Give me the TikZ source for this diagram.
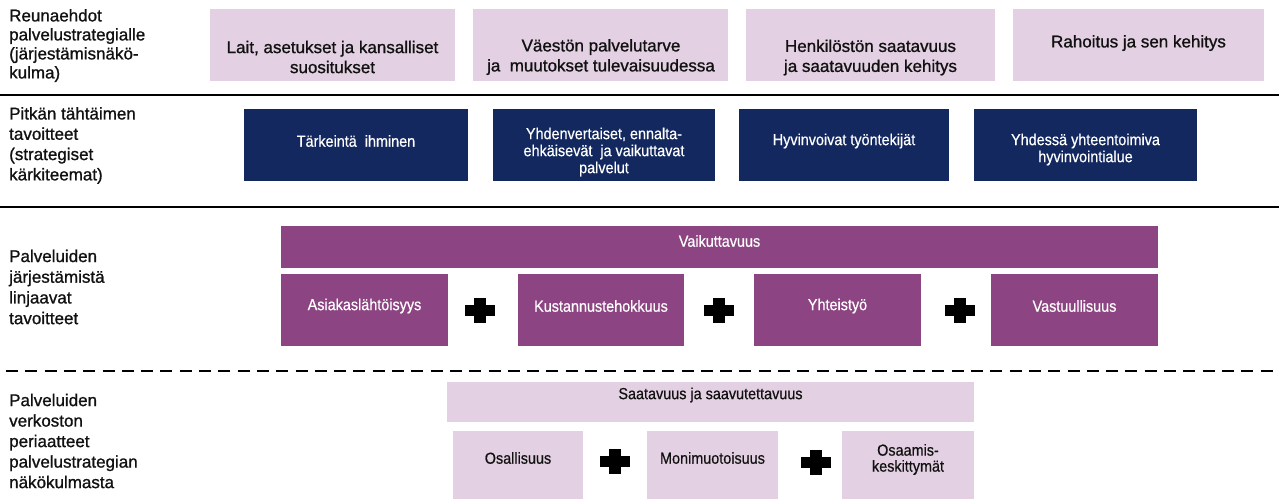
\documentclass[tikz,border=0pt]{standalone}
\usepackage{fontspec}
\setmainfont{Liberation Sans}
\newfontfamily\plainfont{Liberation Sans}[FakeBold=1.0]
\newfontfamily\narrowfont{Liberation Sans}[FakeStretch=0.9, FakeBold=0.5]
\definecolor{pinkbox}{HTML}{E3D0E2}
\definecolor{navybox}{HTML}{13285F}
\definecolor{purplebox}{HTML}{8D4482}
\definecolor{inktext}{HTML}{111111}
\newcommand\mybox[6]{\node[#1, minimum width={(#5-#3)*1pt}, minimum height={(#6-#4)*1pt}] (#2) at ({(#3+#5)/2},{(#4+#6)/2}) {};}
\begin{document}
\begin{tikzpicture}[x=1pt,y=-1pt,
  boxbase/.style={rectangle, inner sep=0pt, outer sep=0pt, draw=none},
  lightbox/.style={boxbase, fill=pinkbox},
  darkbox/.style={boxbase, fill=navybox},
  violetbox/.style={boxbase, fill=purplebox},
  sidelabel/.style={anchor=west, align=left, inner sep=0pt, text=inktext},
  toptext/.style={align=center, inner sep=0pt, text=inktext, font=\plainfont\fontsize{17}{20}\selectfont},
  whitetext/.style={align=center, inner sep=0pt, text=white, font=\narrowfont\fontsize{16}{17}\selectfont},
  lowtext/.style={align=center, inner sep=0pt, text=inktext, font=\narrowfont\fontsize{16}{16}\selectfont},
  sepline/.style={line width=2.2pt, black},
  dashsep/.style={line width=2pt, black, dash pattern=on 12pt off 7.3pt},
  plusmark/.pic={\fill[black] (-15,-5.5) rectangle (15,5.5); \fill[black] (-6,-12.5) rectangle (6,12.5);}
]
\useasboundingbox[fill=white] (0,0) rectangle (1279,499);

% separators
\coordinate (l1a) at (0,95);   \coordinate (l1b) at (1279,95);
\coordinate (l2a) at (0,207);  \coordinate (l2b) at (1279,207);
\coordinate (l3a) at (6,371);  \coordinate (l3b) at (1279,371);
\draw[sepline] (l1a) -- (l1b);
\draw[sepline] (l2a) -- (l2b);
\draw[dashsep] (l3a) -- (l3b);

% left labels
\node[sidelabel, font=\plainfont\fontsize{17}{19}\selectfont] (lab1) at (9,45.5)
  {Reunaehdot\\palvelustrategialle\\(järjestämisnäkö-\\kulma)};
\node[sidelabel, font=\plainfont\fontsize{17}{20.3}\selectfont] (lab2) at (9,145.5)
  {Pitkän tähtäimen\\tavoitteet\\(strategiset\\kärkiteemat)};
\node[sidelabel, font=\plainfont\fontsize{17}{20.7}\selectfont] (lab3) at (9,287)
  {Palveluiden\\järjestämistä\\linjaavat\\tavoitteet};
\node[sidelabel, font=\plainfont\fontsize{17}{20.5}\selectfont] (lab4) at (9,441)
  {Palveluiden\\verkoston\\periaatteet\\palvelustrategian\\näkökulmasta};

% row 1
\mybox{lightbox}{r1}{210}{9}{455}{81}
\mybox{lightbox}{r2}{473}{9}{728}{81}
\mybox{lightbox}{r3}{746}{9}{995}{81}
\mybox{lightbox}{r4}{1013}{9}{1264}{81}
\node[toptext] (r1t) at (332.5,57) {Lait, asetukset ja kansalliset\\suositukset};
\node[toptext] (r2t) at (601,57) {Väestön palvelutarve\\ja~ muutokset tulevaisuudessa};
\node[toptext] (r3t) at (870.5,57.5) {Henkilöstön saatavuus\\ja saatavuuden kehitys};
\node[toptext] (r4t) at (1138.5,43) {Rahoitus ja sen kehitys};

% row 2
\mybox{darkbox}{n1}{244}{109}{468}{181}
\mybox{darkbox}{n2}{493}{109}{715}{181}
\mybox{darkbox}{n3}{739}{109}{949}{181}
\mybox{darkbox}{n4}{974}{109}{1197}{181}
\node[whitetext] (n1t) at (356,141) {Tärkeintä~ ihminen};
\node[whitetext] (n2t) at (604,152) {Yhdenvertaiset, ennalta-\\ehkäisevät~ ja vaikuttavat\\palvelut};
\node[whitetext] (n3t) at (844,141) {Hyvinvoivat työntekijät};
\node[whitetext] (n4t) at (1085.5,149.5) {Yhdessä yhteentoimiva\\hyvinvointialue};

% row 3
\mybox{violetbox}{vbar}{281}{226}{1158}{268}
\node[whitetext] (vbart) at (719.5,241) {Vaikuttavuus};
\mybox{violetbox}{v1}{281}{274}{448}{346}
\mybox{violetbox}{v2}{518}{274}{684}{346}
\mybox{violetbox}{v3}{754}{274}{921}{346}
\mybox{violetbox}{v4}{991}{274}{1158}{346}
\node[whitetext] (v1t) at (364.5,306) {Asiakaslähtöisyys};
\node[whitetext] (v2t) at (601,306) {Kustannustehokkuus};
\node[whitetext] (v3t) at (837.5,306) {Yhteistyö};
\node[whitetext] (v4t) at (1074.5,306) {Vastuullisuus};
\pic (pa) at (480,310) {plusmark};
\pic (pb) at (719,310) {plusmark};
\pic (pc) at (960,310) {plusmark};

% row 4
\mybox{lightbox}{sbar}{447}{382}{974}{422}
\node[lowtext] (sbart) at (710.5,395) {Saatavuus ja saavutettavuus};
\mybox{lightbox}{s1}{453}{431}{583}{499}
\mybox{lightbox}{s2}{647}{431}{778}{499}
\mybox{lightbox}{s3}{842}{431}{974}{499}
\node[lowtext] (s1t) at (518,458) {Osallisuus};
\node[lowtext] (s2t) at (712.5,458) {Monimuotoisuus};
\node[lowtext] (s3t) at (908,459.5) {Osaamis-\\keskittymät};
\pic (pd) at (615,461) {plusmark};
\pic (pe) at (816,462) {plusmark};
\end{tikzpicture}
\end{document}
